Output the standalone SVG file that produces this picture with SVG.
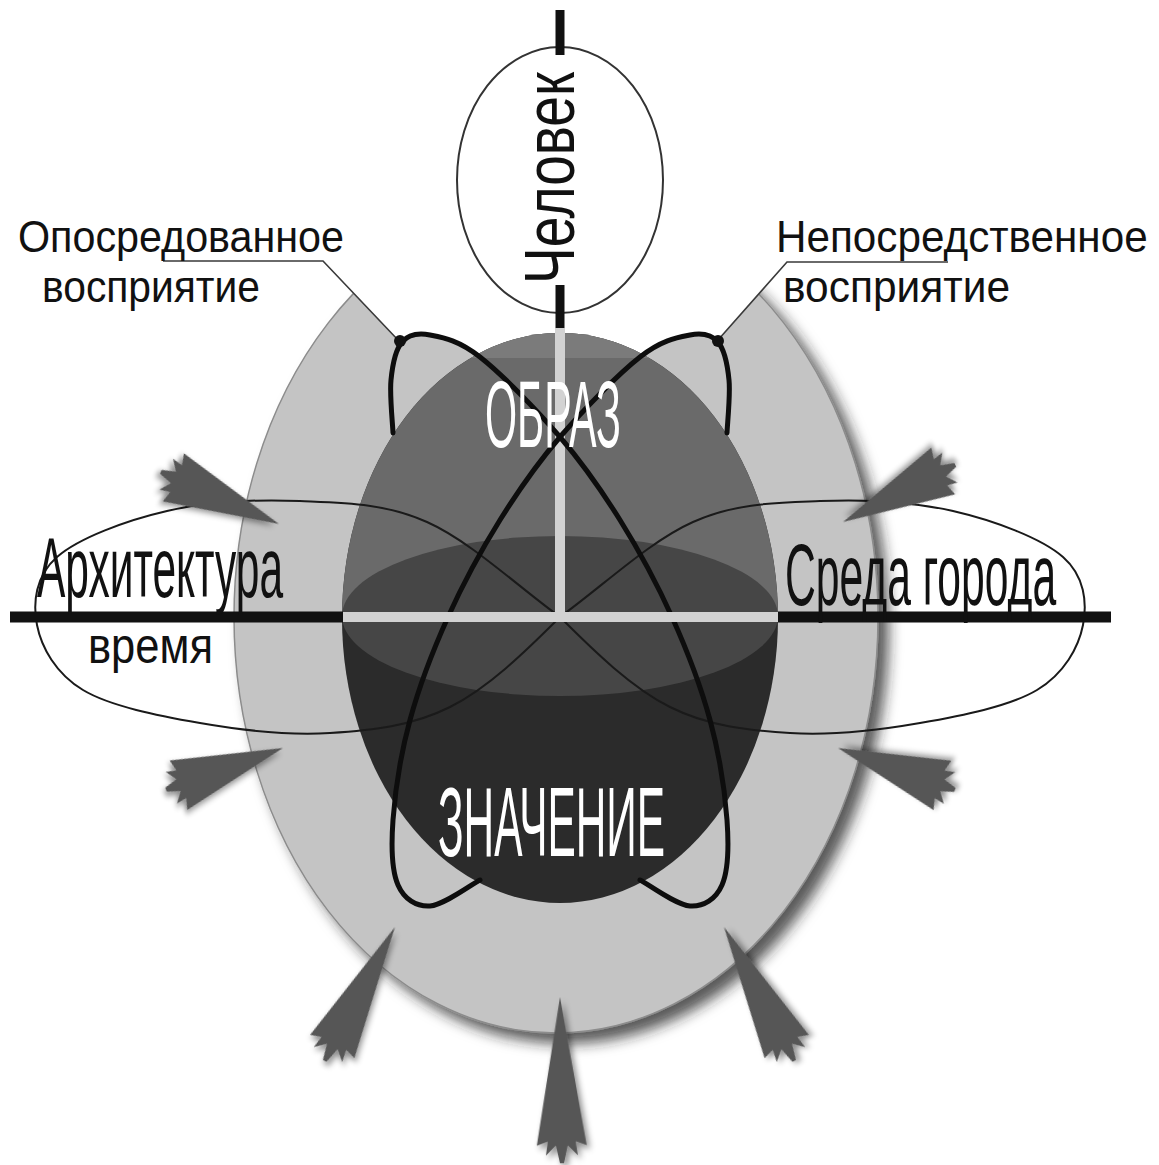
<svg xmlns="http://www.w3.org/2000/svg" width="1159" height="1165" viewBox="0 0 1159 1165">
<defs>
  <filter id="shadow" x="-10%" y="-10%" width="130%" height="130%">
    <feDropShadow dx="10" dy="10" stdDeviation="7" flood-color="#222" flood-opacity="0.75"/>
  </filter>
  <filter id="ashadow" x="-60%" y="-30%" width="220%" height="160%">
    <feDropShadow dx="3" dy="4" stdDeviation="3" flood-color="#000" flood-opacity="0.45"/>
  </filter>
  <clipPath id="cUp"><rect x="300" y="300" width="520" height="318"/></clipPath>
  <clipPath id="cCap"><rect x="300" y="300" width="520" height="58"/></clipPath>
  <path id="arrow" d="M0,0 L25,150 L14,146 L16,160 L6,150 L2,168 L-2,168 L-6,150 L-16,160 L-14,146 L-25,150 Z"/>
  <style>
    .txt { font-family: "Liberation Sans", Arial, sans-serif; fill: #111; }
    .wtxt { font-family: "Liberation Sans", Arial, sans-serif; fill: #fff; }
    .thin { fill: none; stroke: #1a1a1a; stroke-width: 2; }
    .thick { fill: none; stroke: #0d0d0d; stroke-width: 5; stroke-linecap: round; }
    .lead { fill: none; stroke: #3a3a3a; stroke-width: 1.6; }
    .arr { fill: #565656; filter: url(#ashadow); }
    .bar { stroke: #111; stroke-width: 11; }
    .lbar { stroke: #d2d2d2; stroke-width: 10; }
  </style>
</defs>
<rect width="1159" height="1165" fill="#fff"/>

<g id="outer">
  <ellipse cx="556" cy="617" rx="322" ry="416" fill="#c4c4c4" stroke="#8c8c8c" stroke-width="1.5" filter="url(#shadow)"/>
  <polygon points="75,0 398,340 430,333 478,353 560,400 642,353 690,333 718,340 1019,0" fill="#fff"/>
</g>

<g id="sphere">
  <ellipse cx="560" cy="618" rx="218" ry="285" fill="#2b2b2b"/>
  <ellipse cx="560" cy="618" rx="218" ry="285" fill="#6a6a6a" clip-path="url(#cUp)"/>
  <ellipse cx="560" cy="618" rx="218" ry="285" fill="#7b7b7b" clip-path="url(#cCap)"/>
  <ellipse cx="560" cy="616" rx="218" ry="80" fill="#464646"/>
</g>

<g id="connectors">
  <g id="lemniscate">
    <path class="thin" d="M560,617 C516,585 470.3,541.3 427,522 C383.7,502.7 343.3,502.8 300,501 C256.7,499.2 207.5,501.7 167,511 C126.5,520.3 78.7,538 57,557 C35.3,576 32.7,602.8 37,625 C41.3,647.2 55.8,673.7 83,690 C110.2,706.3 158.8,715.8 200,723 C241.2,730.2 288.3,735.7 330,733 C371.7,730.3 411.7,726.3 450,707 C488.3,687.7 525,652 560,617 Z"/>
    <path class="thin" d="M560,617 C604,585 649.7,541.3 693,522 C736.3,502.7 776.7,502.8 820,501 C863.3,499.2 912.5,501.7 953,511 C993.5,520.3 1041.3,538 1063,557 C1084.7,576 1087.3,602.8 1083,625 C1078.7,647.2 1064.2,673.7 1037,690 C1009.8,706.3 961.2,715.8 920,723 C878.8,730.2 831.7,735.7 790,733 C748.3,730.3 708.3,726.3 670,707 C631.7,687.7 595,652 560,617 Z"/>
  </g>
  <line class="lbar" x1="560" y1="328" x2="560" y2="617"/>
  <g id="orbits">
    <path class="thick" d="M480,880 C471.7,884.3 443.7,905.2 430,906 C416.3,906.8 404.2,899.3 398,885 C391.8,870.7 391,847.5 393,820 C395,792.5 400.8,753.8 410,720 C419.2,686.2 433,650.3 448,617 C463,583.7 481.3,550 500,520 C518.7,490 536.7,464.2 560,437 C583.3,409.8 618.3,374 640,357 C661.7,340 677,337.5 690,335 C703,332.5 711.5,334.5 718,342 C724.5,349.5 727.5,364.8 729,380 C730.5,395.2 727.3,424.2 727,433"/>
    <path class="thick" d="M640,880 C648.3,884.3 676.3,905.2 690,906 C703.7,906.8 715.8,899.3 722,885 C728.2,870.7 729,847.5 727,820 C725,792.5 719.2,753.8 710,720 C700.8,686.2 687,650.3 672,617 C657,583.7 638.7,550 620,520 C601.3,490 583.3,464.2 560,437 C536.7,409.8 501.7,374 480,357 C458.3,340 443,337.5 430,335 C417,332.5 408.5,334.5 402,342 C395.5,349.5 392.5,364.8 391,380 C389.5,395.2 392.7,424.2 393,433"/>
  </g>
  <g id="axes">
    <line class="bar" x1="10" y1="617" x2="343" y2="617"/>
    <line class="bar" x1="778" y1="617" x2="1111" y2="617"/>
    <line class="lbar" x1="343" y1="617" x2="778" y2="617"/>
  </g>
  <g id="leaders">
    <polyline class="lead" points="163,261 323,261 398,340"/>
    <polyline class="lead" points="948,262 787,262 718,340"/>
    <circle cx="400" cy="341" r="6" fill="#111"/>
    <circle cx="718" cy="341" r="6" fill="#111"/>
  </g>
</g>

<g id="arrows">
  <use href="#arrow" class="arr" transform="translate(279,524) rotate(113.8) scale(1.05,0.77)"/>
  <use href="#arrow" class="arr" transform="translate(843,522) rotate(-117) scale(1.05,0.75)"/>
  <use href="#arrow" class="arr" transform="translate(283,748) rotate(70.4) scale(1.05,0.74)"/>
  <use href="#arrow" class="arr" transform="translate(838,748) rotate(-70.3) scale(1.05,0.74)"/>
  <use href="#arrow" class="arr" transform="translate(395,927) rotate(27.7) scale(1,0.9)"/>
  <use href="#arrow" class="arr" transform="translate(560,997) rotate(-0.7) scale(1,0.99)"/>
  <use href="#arrow" class="arr" transform="translate(724,927) rotate(-27.7) scale(1,0.9)"/>
</g>

<g id="chelovek">
  <ellipse cx="560" cy="180" rx="103" ry="133" fill="#fff" stroke="#333" stroke-width="2"/>
  <line x1="560" y1="10" x2="560" y2="55" stroke="#111" stroke-width="9"/>
  <line x1="560" y1="285" x2="560" y2="328" stroke="#111" stroke-width="9"/>
  <text class="txt" x="574" y="284" transform="rotate(-90 574 284)" font-size="70" textLength="212" lengthAdjust="spacingAndGlyphs">Человек</text>
</g>

<g id="label-left">
  <text class="txt" x="18" y="252" font-size="44" textLength="326" lengthAdjust="spacingAndGlyphs">Опосредованное</text>
  <text class="txt" x="42" y="302" font-size="44" textLength="218" lengthAdjust="spacingAndGlyphs">восприятие</text>
</g>
<g id="label-right">
  <text class="txt" x="776" y="252" transform="translate(776,0) scale(0.92,1) translate(-776,0)" font-size="44" textLength="404" lengthAdjust="spacingAndGlyphs">Непосредственное</text>
  <text class="txt" x="783" y="302" font-size="44" textLength="227" lengthAdjust="spacingAndGlyphs">восприятие</text>
</g>
<g id="architecture">
  <text class="txt" x="37" y="597" font-size="86" textLength="246" lengthAdjust="spacingAndGlyphs">Архитектура</text>
  <text class="txt" x="88" y="663" font-size="50" textLength="125" lengthAdjust="spacingAndGlyphs">время</text>
</g>
<g id="city">
  <text class="txt" x="785" y="605" transform="translate(785,0) scale(0.446,1) translate(-785,0)" font-size="88" textLength="608" lengthAdjust="spacingAndGlyphs">Среда города</text>
</g>
<g id="obraz">
  <text class="wtxt" x="485" y="447" font-size="95" textLength="136" lengthAdjust="spacingAndGlyphs">ОБРАЗ</text>
</g>
<g id="znachenie">
  <text class="wtxt" x="438" y="856" font-size="98" textLength="227" lengthAdjust="spacingAndGlyphs">ЗНАЧЕНИЕ</text>
</g>
</svg>
